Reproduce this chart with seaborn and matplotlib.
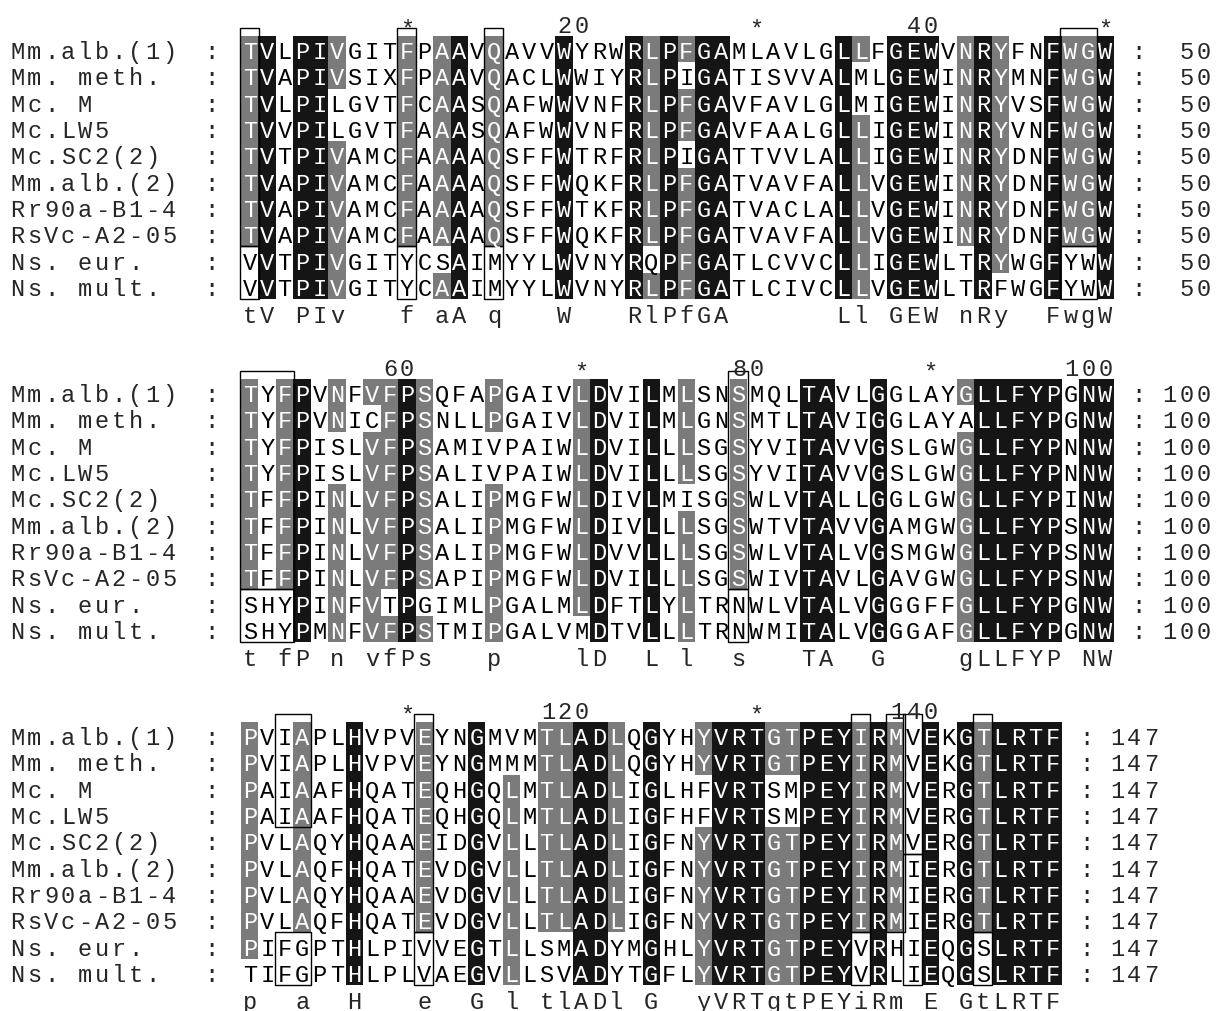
import numpy as np
import pandas as pd
import seaborn as sns
import matplotlib.pyplot as plt
from matplotlib.colors import ListedColormap
from matplotlib.patches import Rectangle

sns.set_theme(style="white")
plt.rcParams['font.family'] = ['Liberation Mono', 'DejaVu Sans Mono']

names = ["Mm.alb.(1)", "Mm. meth.", "Mc. M", "Mc.LW5", "Mc.SC2(2)",
         "Mm.alb.(2)", "Rr90a-B1-4", "RsVc-A2-05", "Ns. eur.", "Ns. mult."]

# alignment, residues 1-50
block1 = ["TVLPIVGITFPAAVQAVVWYRWRLPFGAMLAVLGLLFGEWVNRYFNFWGW",
          "TVAPIVSIXFPAAVQACLWWIYRLPIGATISVVALMLGEWINRYMNFWGW",
          "TVLPILGVTFCAASQAFWWVNFRLPFGAVFAVLGLMIGEWINRYVSFWGW",
          "TVVPILGVTFAAASQAFWWVNFRLPFGAVFAALGLLIGEWINRYVNFWGW",
          "TVTPIVAMCFAAAAQSFFWTRFRLPIGATTVVLALLIGEWINRYDNFWGW",
          "TVAPIVAMCFAAAAQSFFWQKFRLPFGATVAVFALLVGEWINRYDNFWGW",
          "TVAPIVAMCFAAAAQSFFWTKFRLPFGATVACLALLVGEWINRYDNFWGW",
          "TVAPIVAMCFAAAAQSFFWQKFRLPFGATVAVFALLVGEWINRYDNFWGW",
          "VVTPIVGITYCSAIMYYLWVNYRQPFGATLCVVCLLIGEWLTRYWGFYWW",
          "VVTPIVGITYCAAIMYYLWVNYRLPFGATLCIVCLLVGEWLTRFWGFYWW"]

# residues 51-100
block2 = ["TYFPVNFVFPSQFAPGAIVLDVILMLSNSMQLTAVLGGLAYGLLFYPGNW",
          "TYFPVNICFPSNLLPGAIVLDVILMLGNSMTLTAVIGGLAYALLFYPGNW",
          "TYFPISLVFPSAMIVPAIWLDVILLLSGSYVITAVVGSLGWGLLFYPNNW",
          "TYFPISLVFPSALIVPAIWLDVILLLSGSYVITAVVGSLGWGLLFYPNNW",
          "TFFPINLVFPSALIPMGFWLDIVLMISGSWLVTALLGGLGWGLLFYPINW",
          "TFFPINLVFPSALIPMGFWLDIVLLLSGSWTVTAVVGAMGWGLLFYPSNW",
          "TFFPINLVFPSALIPMGFWLDVVLLLSGSWLVTALVGSMGWGLLFYPSNW",
          "TFFPINLVFPSAPIPMGFWLDVILLLSGSWIVTAVLGAVGWGLLFYPSNW",
          "SHYPINFVTPGIMLPGALMLDFTLYLTRNWLVTALVGGGFFGLLFYPGNW",
          "SHYPMNFVFPSTMIPGALVMDTVLLLTRNWMITALVGGGAFGLLFYPGNW"]

# residues 101-147
block3 = ["PVIAPLHVPVEYNGMVMTLADLQGYHYVRTGTPEYIRMVEKGTLRTF",
          "PVIAPLHVPVEYNGMMMTLADLQGYHYVRTGTPEYIRMVEKGTLRTF",
          "PAIAAFHQATEQHGQLMTLADLIGLHFVRTSMPEYIRMVERGTLRTF",
          "PAIAAFHQATEQHGQLMTLADLIGFHFVRTSMPEYIRMVERGTLRTF",
          "PVLAQYHQAAEIDGVLLTLADLIGFNYVRTGTPEYIRMVERGTLRTF",
          "PVLAQFHQATEVDGVLLTLADLIGFNYVRTGTPEYIRMIERGTLRTF",
          "PVLAQYHQAAEVDGVLLTLADLIGFNYVRTGTPEYIRMIERGTLRTF",
          "PVLAQFHQATEVDGVLLTLADLIGFNYVRTGTPEYIRMIERGTLRTF",
          "PIFGPTHLPIVVEGTLLSMADYMGHLYVRTGTPEYVRHIEQGSLRTF",
          "TIFGPTHLPLVAEGVLLSVADYTGFLYVRTGTPEYVRLIEQGSLRTF"]

blocks = [block1, block2, block3]
starts = [0, 50, 100]
ends = [50, 100, 147]

# boxed groups: (block, first col, last col, first row, last row)
boxes = [(0, 1, 1, 1, 8), (0, 10, 10, 1, 8), (0, 15, 15, 1, 8), (0, 48, 49, 1, 8),
         (0, 1, 1, 9, 10), (0, 10, 10, 9, 10), (0, 15, 15, 9, 10), (0, 48, 49, 9, 10),
         (1, 1, 3, 1, 8), (1, 29, 29, 1, 8), (1, 1, 3, 9, 10), (1, 29, 29, 9, 10),
         (2, 3, 4, 1, 4), (2, 11, 11, 1, 8), (2, 36, 36, 1, 8), (2, 38, 38, 1, 8),
         (2, 39, 39, 1, 5), (2, 43, 43, 1, 8), (2, 3, 4, 9, 10), (2, 11, 11, 9, 10),
         (2, 36, 36, 9, 10), (2, 39, 39, 6, 10), (2, 43, 43, 9, 10)]

W, H = 1224, 1012
cw, rh = 17.46, 26.3
fs = 17
pitch = 16.9 / cw   # courier-like character pitch, in column units
shade = ListedColormap(['#ffffff', '#7b7b7b', '#151515'])


def mono(ax, x, y, s):
    # write a string one character per fixed-width slot
    for i, ch in enumerate(s):
        if ch != ' ':
            ax.text(x + (i + 0.5) * pitch, y, ch, ha='center', va='center_baseline', fontsize=fs)


fig = plt.figure(figsize=(W / 100, H / 100), dpi=100)

for b, seqs in enumerate(blocks):
    ncol = len(seqs[0])
    nrow = len(seqs)
    top = 37 + b * 343
    ax = fig.add_axes([241 / W, 1 - (top + nrow * rh) / H, ncol * cw / W, nrow * rh / H])

    letters = np.array([list(s) for s in seqs])
    level = np.zeros(letters.shape, dtype=int)
    cons = []
    for j in range(ncol):
        col = letters[:, j]
        vals, counts = np.unique(col, return_counts=True)
        k = counts.argmax()
        if counts[k] == nrow:
            level[col == vals[k], j] = 2
            cons.append(vals[k])
        elif counts[k] >= 8:
            level[col == vals[k], j] = 1
            cons.append(vals[k].lower())
        else:
            cons.append(' ')

    sns.heatmap(pd.DataFrame(level), ax=ax, cmap=shade, vmin=-0.5, vmax=2.5,
                cbar=False, annot=letters, fmt='', linewidths=0,
                annot_kws={'fontsize': fs, 'va': 'center_baseline'},
                xticklabels=False, yticklabels=False)
    for t in ax.texts:
        x, y = t.get_position()
        t.set_color('black' if level[int(y), int(x)] == 0 else 'white')

    for r, name in enumerate(names):
        mono(ax, -13.3, r + 0.5, name)
        ax.text(-1.7, r + 0.5, ':', ha='center', va='center_baseline', fontsize=fs)
        ax.text(ncol + 1.4, r + 0.5, ':', ha='center', va='center_baseline', fontsize=fs)
        num = str(ends[b])
        mono(ax, ncol + 5.6 - len(num) * pitch, r + 0.5, num)

    for n in range(10, ncol + 1, 10):
        pos = starts[b] + n
        if pos % 20 == 10:
            ax.text(n - 0.5, -0.35, '*', ha='center', va='center_baseline', fontsize=fs)
        else:
            lab = str(pos)
            mono(ax, n - len(lab) * pitch, -0.5, lab)

    for j, c in enumerate(cons):
        ax.text(j + 0.5, 10.55, c, ha='center', va='center_baseline', fontsize=fs)

    for bb, c0, c1, r0, r1 in boxes:
        if bb != b:
            continue
        y0 = r0 - 1 - (0.3 if r0 == 1 else 0)
        ax.add_patch(Rectangle((c0 - 1.08, y0), c1 - c0 + 1.1, r1 - y0,
                               fill=False, edgecolor='black', lw=1, clip_on=False))

fig.savefig('out.png', dpi=100)
